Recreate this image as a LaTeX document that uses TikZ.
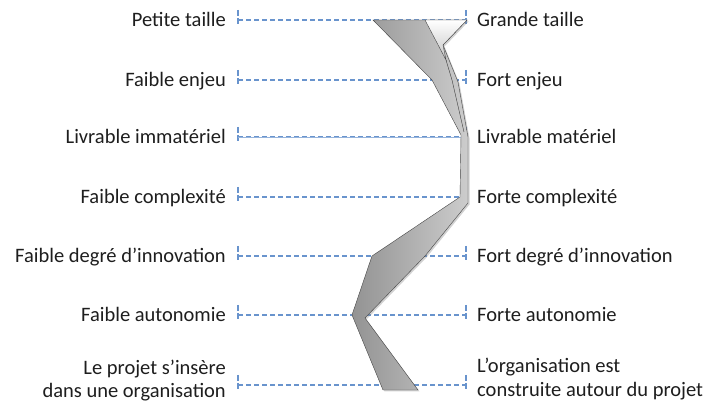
\documentclass[tikz,border=0pt]{standalone}
\usepackage{fontspec}
\setmainfont{Carlito}
\usetikzlibrary{shadows}
\definecolor{dashblue}{RGB}{105,148,205}
\definecolor{txt}{RGB}{30,30,30}
\begin{document}
\begin{tikzpicture}[x=1pt,y=-1pt,
  lbl/.style={text=txt, font=\fontsize{20.5}{24}\selectfont, inner sep=0pt},
  dl/.style={draw=dashblue, line width=1.1pt, dash pattern=on 5pt off 3pt},
  tickmark/.style={draw=dashblue, line width=1.1pt, dash pattern=on 6pt off 2pt},
  ribbon/.style={left color=gray!85, right color=gray!40, draw=gray!55!black, line width=0.4pt,
    drop shadow={shadow xshift=1.5pt, shadow yshift=-1.5pt, opacity=0.35}},
  flap/.style={top color=white, bottom color=gray!45, draw=gray!55!black, line width=0.4pt},
  fold/.style={draw=gray!45!black, line width=0.4pt}]
\useasboundingbox (0,0) rectangle (718,403);
\fill[white] (0,0) rectangle (718,403);

\foreach \y/\l/\r/\n in {20/Petite taille/Grande taille/1,
  80/Faible enjeu/Fort enjeu/2,
  137/Livrable immatériel/Livrable matériel/3,
  197/Faible complexité/Forte complexité/4,
  256/Faible degré d’innovation/Fort degré d’innovation/5,
  315/Faible autonomie/Forte autonomie/6}{
  \coordinate (L\n) at (238,\y);
  \coordinate (R\n) at (466,\y);
  \draw[dl] (L\n) -- (R\n);
  \draw[tickmark] ([yshift=10pt]L\n) -- ([yshift=-4pt]L\n);
  \draw[tickmark] ([yshift=10pt]R\n) -- ([yshift=-4pt]R\n);
  \node[lbl, anchor=base east] (tl\n) at (226,\y+6.5) {\l};
  \node[lbl, anchor=base west] (tr\n) at (477,\y+6.5) {\r};
}
\draw[draw=dashblue!70, line width=0.5pt] (L3) -- (R3);

\coordinate (L7) at (238,385);
\coordinate (R7) at (466,385);
\draw[dl] (L7) -- (R7);
\draw[tickmark] ([yshift=10pt]L7) -- ([yshift=-4pt]L7);
\draw[tickmark] ([yshift=10pt]R7) -- ([yshift=-4pt]R7);
\node[lbl, anchor=base east] (tl7a) at (226,375) {Le projet s’insère};
\node[lbl, anchor=base east] (tl7b) at (226,398) {dans une organisation};
\node[lbl, anchor=base west] (tr7a) at (477,373) {L’organisation est};
\node[lbl, anchor=base west] (tr7b) at (477,396) {construite autour du projet};

% ribbon
\path[ribbon] (373,20) -- (432,80) -- (461,135) -- (460,197) -- (372,256) -- (352,315)
  -- (383,390) -- (418,390) -- (365,318) -- (425,256) -- (468,203) -- (468,137)
  -- (458,82) -- (443,45) -- (467,20) -- cycle;
\path[flap] (425,20) -- (467,20) -- (443,45) -- (446,60) -- cycle;
\path[fold] (446,60) -- (452,80) -- (464,132);
\end{tikzpicture}
\end{document}
